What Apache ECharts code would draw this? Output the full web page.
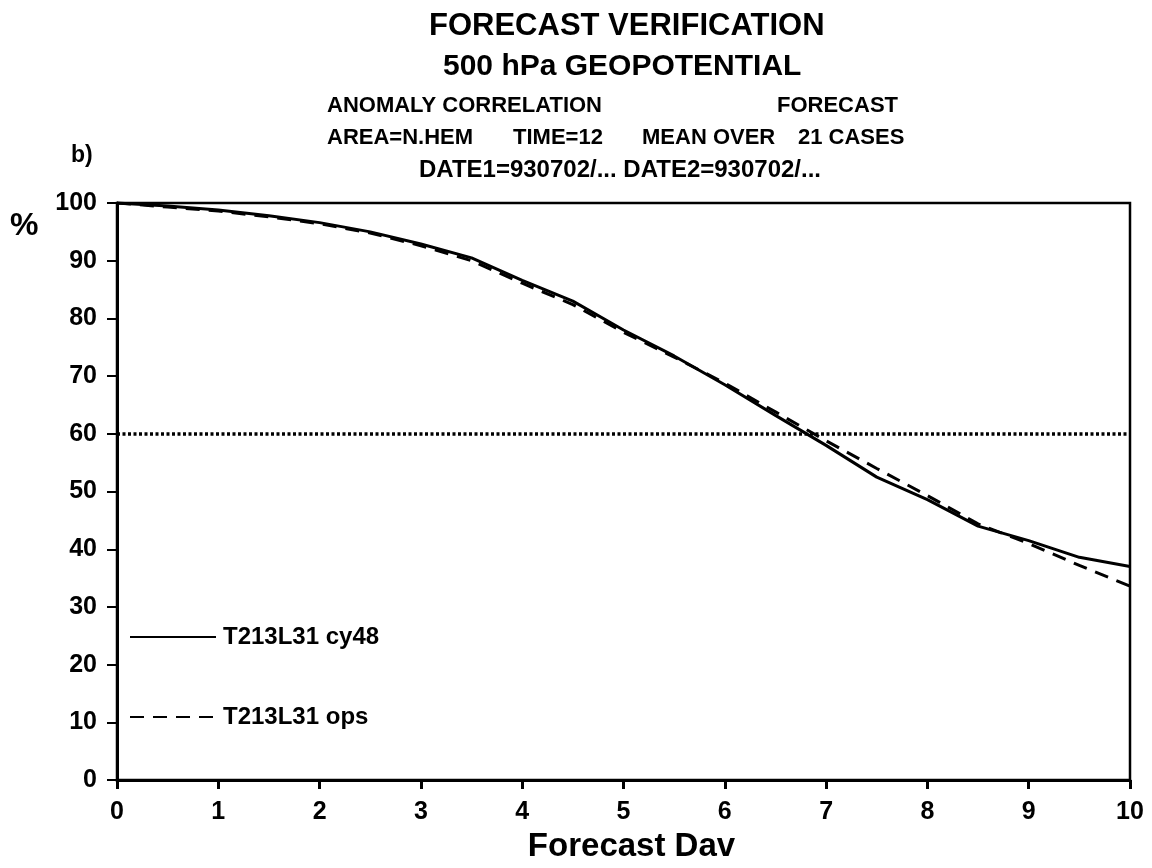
<!DOCTYPE html>
<html>
<head>
<meta charset="utf-8">
<script src="https://cdn.jsdelivr.net/npm/echarts@6/dist/echarts.min.js"></script>
<style>
  html, body { margin: 0; padding: 0; background: #fff; }
  #chart { width: 1152px; height: 868px; }
</style>
</head>
<body>
<div id="chart"></div>
<script>
// Forecast day (x) and anomaly correlation in percent for the two runs
const days = [0, 0.5, 1, 1.5, 2, 2.5, 3, 3.5, 4, 4.5, 5, 5.5, 6, 6.5, 7, 7.5, 8, 8.5, 9, 9.5, 10];
const cy48 = [100, 99.5, 98.8, 97.8, 96.6, 95, 92.9, 90.5, 86.6, 83, 78, 73.5, 68.5, 63.2, 58, 52.5, 48.6, 44, 41.5, 38.6, 37];
const ops  = [100, 99.3, 98.6, 97.6, 96.4, 94.8, 92.6, 90, 86.1, 82.4, 77.6, 73.3, 68.8, 63.8, 58.8, 54, 49.3, 44.4, 41, 37.2, 33.6];
const seriesNames = ['T213L31 cy48', 'T213L31 ops'];
const xTicks = [0, 1, 2, 3, 4, 5, 6, 7, 8, 9, 10];
const yTicks = [0, 10, 20, 30, 40, 50, 60, 70, 80, 90, 100];
const thresholdLevel = 60;

const FONT = '"Liberation Sans", Arial, Helvetica, sans-serif';
const chart = echarts.init(document.getElementById('chart'));

const pair = (xs, ys) => xs.map((x, i) => [x, ys[i]]);
const heading = (text, pos, size) => Object.assign({
  text,
  textStyle: { fontSize: size, fontWeight: 'bold', color: '#000', fontFamily: FONT }
}, pos);

chart.setOption({
  backgroundColor: '#ffffff',
  animation: false,
  textStyle: { fontFamily: FONT, color: '#000' },
  title: [
    heading('FORECAST VERIFICATION', { left: 424, top: 6 }, 31),
    heading('500 hPa GEOPOTENTIAL', { left: 438, top: 47 }, 30),
    heading('ANOMALY CORRELATION', { left: 322, top: 90 }, 22),
    heading('FORECAST', { left: 772, top: 90 }, 22),
    heading('AREA=N.HEM', { left: 322, top: 122 }, 22),
    heading('TIME=12', { left: 508, top: 122 }, 22),
    heading('MEAN OVER', { left: 637, top: 122 }, 22),
    heading('21 CASES', { left: 793, top: 122 }, 22),
    heading('DATE1=930702/... DATE2=930702/...', { left: 414, top: 153 }, 24),
    heading('b)', { left: 66, top: 139 }, 23),
    heading('%', { left: 5, top: 205 }, 32)
  ],
  legend: {
    orient: 'vertical',
    left: 129,
    top: 625,
    padding: 0,
    itemWidth: 86,
    itemHeight: 14,
    itemGap: 56,
    data: seriesNames,
    itemStyle: { opacity: 0 },
    textStyle: {
      fontSize: 24, fontWeight: 'bold', color: '#000', fontFamily: FONT,
      lineHeight: 24, padding: [0, 0, 0, 2]
    }
  },
  grid: {
    left: 117, right: 22, top: 203, bottom: 79,
    show: true, borderColor: '#000', borderWidth: 2.5, backgroundColor: 'transparent'
  },
  xAxis: {
    type: 'value',
    min: 0, max: 10, interval: 1,
    name: 'Forecast Dav',
    nameLocation: 'middle',
    nameGap: 41,
    nameTextStyle: {
      fontSize: 33, fontWeight: 'bold', color: '#000', fontFamily: FONT,
      padding: [0, 0, 0, 16]
    },
    axisLine: { show: true, lineStyle: { color: '#000', width: 3 } },
    axisTick: { show: true, inside: false, length: 9, lineStyle: { color: '#000', width: 3 } },
    axisLabel: {
      fontSize: 25, fontWeight: 'bold', color: '#000', margin: 20, fontFamily: FONT,
      formatter: v => xTicks.includes(v) ? String(v) : ''
    },
    splitLine: { show: false }
  },
  yAxis: {
    type: 'value',
    min: 0, max: 100, interval: 10,
    axisLine: { show: true, lineStyle: { color: '#000', width: 3 } },
    axisTick: { show: true, inside: false, length: 10, lineStyle: { color: '#000', width: 2 } },
    axisLabel: {
      fontSize: 25, fontWeight: 'bold', color: '#000', margin: 20, fontFamily: FONT,
      formatter: v => yTicks.includes(v) ? String(v) : ''
    },
    splitLine: { show: false }
  },
  series: [
    {
      name: seriesNames[0],
      type: 'line',
      data: pair(days, cy48),
      symbol: 'none',
      smooth: false,
      z: 3,
      lineStyle: { color: '#000', width: 3, type: 'solid' },
      itemStyle: { color: '#000' },
      markLine: {
        silent: true,
        symbol: 'none',
        label: { show: false },
        lineStyle: { color: '#000', width: 3.5, type: [3, 2.5] },
        data: [{ yAxis: thresholdLevel }]
      }
    },
    {
      name: seriesNames[1],
      type: 'line',
      data: pair(days, ops),
      symbol: 'none',
      smooth: false,
      z: 2,
      lineStyle: { color: '#000', width: 3, type: [14, 9] },
      itemStyle: { color: '#000' }
    }
  ]
});
</script>
</body>
</html>
